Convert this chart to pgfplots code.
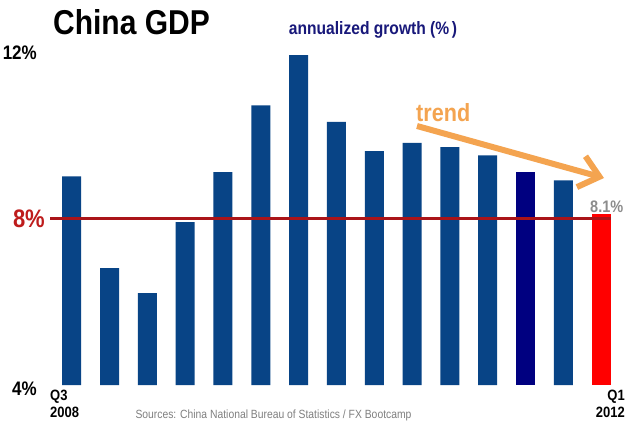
\documentclass[border=0pt]{standalone}
\usepackage{pgfplots}
\pgfplotsset{compat=1.18}
\usepackage{graphicx}
\usepackage{fontspec}
\setmainfont{Liberation Sans}
\usetikzlibrary{arrows.meta}
\definecolor{barblue}{RGB}{8,68,134}
\definecolor{barnavy}{RGB}{0,0,128}
\definecolor{barred}{RGB}{255,0,0}
\definecolor{linered}{RGB}{170,20,24}
\definecolor{lab8}{RGB}{190,28,28}
\definecolor{titlenavy}{RGB}{24,24,122}
\definecolor{trendorange}{RGB}{244,164,80}
\definecolor{srcgray}{RGB}{128,128,128}
\definecolor{valgray}{RGB}{140,140,140}
\newcommand\T[1]{\scalebox{1}[1.15]{#1}}
\begin{document}
\begin{tikzpicture}[x=1pt,y=1pt]
\useasboundingbox (0,0) rectangle (640,424);
\fill[white] (0,0) rectangle (640,424);
\begin{axis}[
  at={(49pt,39pt)}, anchor=south west,
  scale only axis, width=574.9pt, height=334pt,
  xmin=-0.6, xmax=14.6, ymin=4, ymax=12,
  axis lines=none, xtick=\empty, ytick=\empty,
  ybar, bar width=19pt, bar shift=0pt,
]
\addplot[draw=none, fill=barblue] coordinates {
 (0,9.0) (1,6.8) (2,6.2) (3,7.9) (4,9.1) (5,10.7) (6,11.9) (7,10.3)
 (8,9.6) (9,9.8) (10,9.7) (11,9.5) (13,8.9)};
\addplot[draw=none, fill=barnavy] coordinates {(12,9.1)};
\addplot[draw=none, fill=barred] coordinates {(14,8.1)};
\addplot[sharp plot, linered, line width=3pt, forget plot] coordinates {(-0.57,8) (14.25,8)};
\end{axis}
% texts
\node[anchor=base, inner sep=0pt, font=\bfseries\fontsize{30}{30}\selectfont] at (131.5,389) {\T{China GDP}};
\node[anchor=base, inner sep=0pt, text=titlenavy, font=\bfseries\fontsize{15.6}{16}\selectfont] at (373,389) {\T{annualized growth (\%\,)}};
\node[anchor=base east, inner sep=0pt, font=\bfseries\fontsize{17}{17}\selectfont] at (37,364) {\T{12\%}};
\node[anchor=base east, inner sep=0pt, text=lab8, font=\bfseries\fontsize{22}{22}\selectfont] at (45,197) {\T{8\%}};
\node[anchor=base east, inner sep=0pt, font=\bfseries\fontsize{17}{17}\selectfont] at (37,29) {\T{4\%}};
\node[anchor=base west, inner sep=0pt, text=trendorange, font=\bfseries\fontsize{21.6}{22}\selectfont] at (416,303) {\T{trend}};
\node[anchor=base west, inner sep=0pt, text=valgray, font=\bfseries\fontsize{14.5}{15}\selectfont] at (590,212) {\T{8.1\%}};
\node[anchor=base west, inner sep=0pt, font=\bfseries\fontsize{13}{13}\selectfont] at (50,24) {\T{Q3}};
\node[anchor=base west, inner sep=0pt, font=\bfseries\fontsize{13}{13}\selectfont] at (50,7) {\T{2008}};
\node[anchor=base east, inner sep=0pt, font=\bfseries\fontsize{13}{13}\selectfont] at (625,24) {\T{Q1}};
\node[anchor=base east, inner sep=0pt, font=\bfseries\fontsize{13}{13}\selectfont] at (625,7) {\T{2012}};
\node[anchor=base, inner sep=0pt, text=srcgray, font=\fontsize{10.35}{11}\selectfont] at (273.5,6) {\T{Sources: China National Bureau of Statistics / FX Bootcamp}};
% trend arrow
\draw[trendorange, line width=6pt, -{Straight Barb[length=19pt, width=32pt]}] (417,298) -- (604,246);
\end{tikzpicture}
\end{document}
